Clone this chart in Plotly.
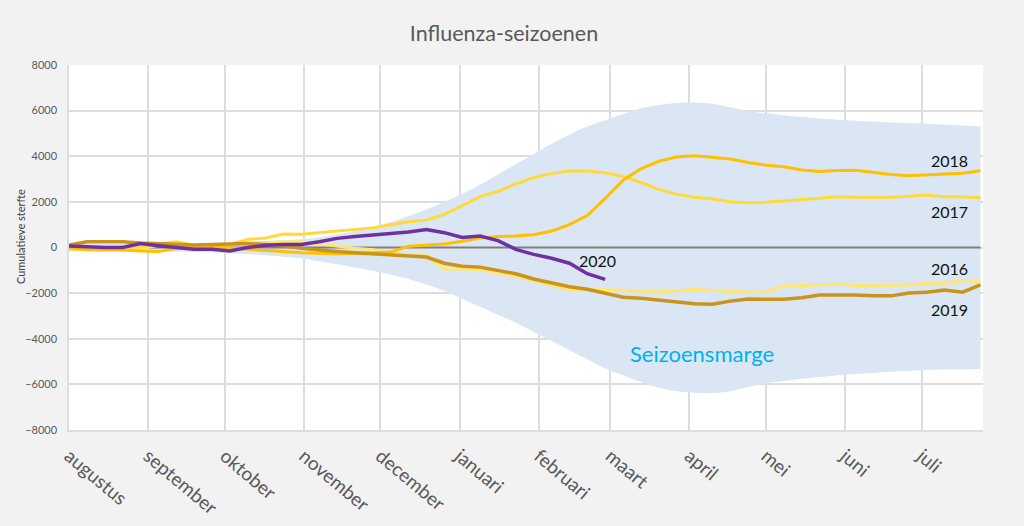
import plotly.graph_objects as go

# ---- data ----
weeks = list(range(1, 53))  # week 1 = 1 augustus
month_days = [0, 31, 61, 92, 122, 153, 184, 212, 243, 273, 304, 334]
month_labels = ["augustus", "september", "oktober", "november", "december", "januari",
                "februari", "maart", "april", "mei", "juni", "juli"]

band_upper = [150, 150, 150, 150, 150, 160, 170, 180, 190, 210, 240, 280, 320, 360, 450, 570,
              720, 900, 1120, 1380, 1680, 2000, 2350, 2750, 3200, 3650, 4100, 4550, 4950, 5300,
              5580, 5850, 6100, 6250, 6330, 6350, 6300, 6150, 5980, 5880, 5800, 5720, 5650, 5600,
              5560, 5520, 5480, 5450, 5420, 5380, 5350, 5320]
band_lower = [-150, -150, -150, -150, -160, -170, -180, -200, -220, -250, -290, -340, -400, -480,
              -600, -730, -880, -1020, -1180, -1380, -1620, -1900, -2250, -2600, -2950, -3300,
              -3700, -4100, -4500, -4900, -5300, -5600, -5900, -6150, -6300, -6370, -6380, -6300,
              -6120, -5950, -5850, -5750, -5680, -5600, -5550, -5500, -5450, -5400, -5370, -5350,
              -5340, -5330]

s2016 = [-110, -60, -50, -40, -60, 100, 210, 110, 100, 130, 180, 200, 250, 250, 150, 50, -30,
         -100, -250, -330, -350, -950, -930, -980, -1100, -1250, -1450, -1650, -1850, -1850,
         -1840, -1870, -1900, -1950, -1900, -1830, -1880, -1930, -1960, -1960, -1680, -1670,
         -1640, -1600, -1670, -1670, -1670, -1640, -1570, -1570, -1450, -1500]
s2017 = [35, 0, 0, 0, 30, 150, 250, 100, 80, 150, 350, 420, 590, 580, 650, 720, 790, 860, 1000,
         1130, 1200, 1450, 1830, 2230, 2460, 2790, 3060, 3250, 3350, 3350, 3280, 3120, 2850,
         2550, 2340, 2200, 2130, 2010, 1960, 1980, 2040, 2110, 2180, 2220, 2200, 2200, 2200,
         2250, 2300, 2220, 2220, 2180]
s2018 = [-35, -100, -110, -110, -150, -180, -50, 30, 30, -30, -80, -130, -180, -230, -260, -270,
         -260, -240, -200, 50, 90, 150, 270, 420, 480, 500, 560, 720, 1000, 1400, 2150, 2950,
         3450, 3780, 3970, 4020, 3960, 3880, 3730, 3610, 3540, 3400, 3330, 3380, 3390, 3300,
         3200, 3150, 3200, 3220, 3250, 3360]
s2019 = [110, 250, 250, 250, 200, 180, 150, 110, 130, 160, 180, 130, 80, -30, -120, -180, -230,
         -280, -320, -360, -420, -690, -820, -860, -1000, -1150, -1380, -1560, -1720, -1830,
         -2000, -2180, -2220, -2300, -2380, -2470, -2490, -2350, -2260, -2250, -2270, -2200,
         -2080, -2080, -2080, -2120, -2120, -1990, -1960, -1860, -1960, -1640]
s2020 = [65, 20, 0, 0, 170, 80, 0, -80, -80, -150, 0, 100, 130, 130, 250, 400, 480, 550, 590,
         680, 790, 650, 440, 500, 300, -80, -300, -470, -690, -1150, -1400]
baseline = [0] * len(weeks)

series = [
    ("2016", s2016, "#FFE772", 3),
    ("2017", s2017, "#FFD93A", 3),
    ("2018", s2018, "#FFC000", 3),
    ("2019", s2019, "#C9931C", 3.5),
    ("2020", s2020, "#7030A0", 3.5),
]

days = [(w - 1) * 7 for w in weeks]

fig = go.Figure()
fig.add_trace(go.Scatter(x=days, y=band_lower, mode="lines", line=dict(width=0, shape="spline"),
                         hoverinfo="skip", showlegend=False))
fig.add_trace(go.Scatter(x=days, y=band_upper, mode="lines", line=dict(width=0, shape="spline"),
                         fill="tonexty", fillcolor="#DAE6F3", hoverinfo="skip", showlegend=False))
fig.add_trace(go.Scatter(x=days, y=baseline, mode="lines", line=dict(color="#7F7F7F", width=2),
                         showlegend=False))
for name, vals, col, w in series:
    fig.add_trace(go.Scatter(x=days[:len(vals)], y=vals, mode="lines", name=name,
                             line=dict(color=col, width=w), showlegend=False))

label_font = dict(family="Lato, Open Sans, sans-serif", size=16, color="#111111")
labels = [("2018", 345, 3830), ("2017", 345, 1600), ("2016", 345, -940), ("2019", 345, -2735),
          ("2020", 207, -580)]
for txt, lx, ly in labels:
    fig.add_annotation(x=lx, y=ly, text=txt, showarrow=False, font=label_font,
                       xanchor="center", yanchor="middle")
fig.add_annotation(x=248, y=-4650, text="Seizoensmarge", showarrow=False,
                   font=dict(family="Lato, Open Sans, sans-serif", size=22, color="#00B0F0"))
fig.add_annotation(xref="paper", yref="paper", x=-0.053, y=0.53, text="Cumulatieve sterfte",
                   textangle=-90, showarrow=False, xanchor="center", yanchor="middle",
                   font=dict(family="Lato, Open Sans, sans-serif", size=11, color="#404040"))

fig.update_layout(
    width=1024, height=526,
    paper_bgcolor="#F2F2F2", plot_bgcolor="#FFFFFF",
    margin=dict(l=69, r=41, t=65, b=96, autoexpand=False),
    title=dict(text="Influenza-seizoenen", x=504 / 1024, xanchor="center", y=1 - 33 / 526,
               yanchor="middle",
               font=dict(family="Lato, Open Sans, sans-serif", size=21.5, color="#595959")),
    font=dict(family="Lato, Open Sans, sans-serif", color="#595959"),
)
fig.update_xaxes(range=[0, 358], tickvals=month_days, ticktext=month_labels, tickangle=40,
                 showgrid=True, gridcolor="#DDDDDD", gridwidth=1.5, zeroline=False,
                 showline=True, linecolor="#DDDDDD", linewidth=1.5, ticks="", automargin=False,
                 ticklabelstandoff=6, tickfont=dict(size=19, color="#595959"))
fig.update_yaxes(range=[-8000, 8000], dtick=2000, tickformat="d", showgrid=True,
                 gridcolor="#DDDDDD", gridwidth=1.5, zeroline=False, showline=True,
                 linecolor="#DDDDDD", linewidth=1.5, ticks="", ticklabelstandoff=8,
                 automargin=False, tickfont=dict(size=11, color="#595959"))

fig.write_html("out.html", config={"displayModeBar": False},
               post_script="document.body.style.margin='0';"
                           "document.body.style.background='#F2F2F2';")
